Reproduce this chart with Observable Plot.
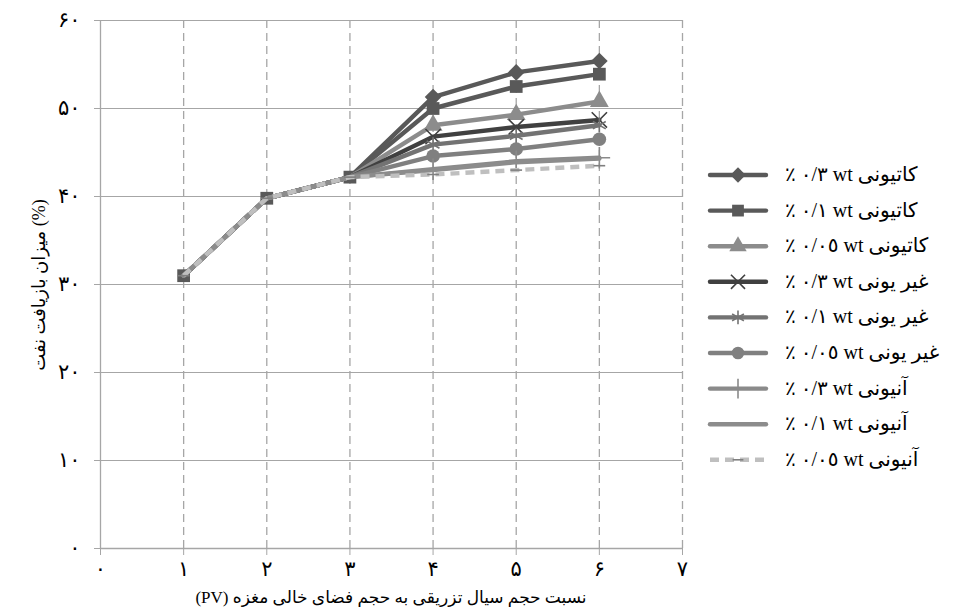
<!DOCTYPE html>
<html>
<head>
<meta charset="utf-8">
<script src="https://cdn.jsdelivr.net/npm/d3@7"></script>
<script src="https://cdn.jsdelivr.net/npm/@observablehq/plot@0.6"></script>
<style>
  html, body { margin: 0; padding: 0; background: #fff; }
  #chart { width: 974px; height: 611px; }
</style>
</head>
<body>
<div id="chart"></div>
<script>
// ---- Data ----
const pv = [1, 2, 3, 4, 5, 6];
const cationic03  = [31.0, 39.8, 42.2, 51.3, 54.1, 55.4];
const cationic01  = [31.0, 39.8, 42.2, 50.0, 52.5, 53.9];
const cationic005 = [31.0, 39.8, 42.2, 48.1, 49.3, 50.8];
const nonionic03  = [31.0, 39.8, 42.2, 46.8, 47.9, 48.7];
const nonionic01  = [31.0, 39.8, 42.2, 45.9, 46.9, 48.1];
const nonionic005 = [31.0, 39.8, 42.2, 44.6, 45.4, 46.5];
const anionic03   = [31.0, 39.8, 42.2, 43.1, 44.0, 44.4];
const anionic01   = [31.0, 39.8, 42.2, 43.0, 43.9, 44.3];
const anionic005  = [31.0, 39.8, 42.2, 42.5, 43.0, 43.5];

const seriesLabels = [
  "٪ ٠/٣ wt کاتیونی",
  "٪ ٠/١ wt کاتیونی",
  "٪ ٠/٠٥ wt کاتیونی",
  "٪ ٠/٣ wt غیر یونی",
  "٪ ٠/١ wt غیر یونی",
  "٪ ٠/٠٥ wt غیر یونی",
  "٪ ٠/٣ wt آنیونی",
  "٪ ٠/١ wt آنیونی",
  "٪ ٠/٠٥ wt آنیونی"
];
const seriesValues = [cationic03, cationic01, cationic005, nonionic03, nonionic01, nonionic005, anionic03, anionic01, anionic005];

const xTicks = [0, 1, 2, 3, 4, 5, 6, 7];
const xTickLabels = ["۰", "۱", "۲", "۳", "۴", "۵", "۶", "۷"];
const yTicks = [0, 10, 20, 30, 40, 50, 60];
const yTickLabels = ["۰", "۱۰", "۲۰", "۳۰", "۴۰", "۵۰", "۶۰"];
const xTitle = "(PV) نسبت حجم سیال تزریقی به حجم فضای خالی مغزه";
const yTitle = "میزان بازیافت نفت (%)";

// ---- Styles ----
const dashSymbol = { draw(ctx, size) { const w = Math.sqrt(size) * 0.55; ctx.moveTo(-w, 0); ctx.lineTo(w, 0); } };
const styles = [
  { color: "#595959", symbol: "diamond2", filled: true, r: 7.5 },
  { color: "#595959", symbol: "square", filled: true, r: 7.2, shared: true },
  { color: "#8c8c8c", symbol: "triangle", filled: true, r: 7 },
  { color: "#404040", symbol: "times", filled: false, r: 7 },
  { color: "#737373", symbol: "asterisk", filled: false, r: 7 },
  { color: "#808080", symbol: "circle", filled: true, r: 6.8 },
  { color: "#8a8a8a", symbol: "plus", filled: false, r: 7 },
  { color: "#8c8c8c", symbol: null, filled: false, r: 0 },
  { color: "#bfbfbf", symbol: dashSymbol, filled: false, r: 6, dash: "9,6", markColor: "#7f7f7f", shared: true }
];
const sharedUntil = 3; // points up to PV=3 are common to all series

const data = seriesValues.flatMap((vals, s) => vals.map((v, i) => ({ s, x: pv[i], y: v })));

const fontFam = "'Liberation Serif', 'DejaVu Sans', serif";
const gridColor = "#a6a6a6";

const marks = [
  Plot.ruleY(yTicks.filter(d => d > 0), { x1: 0, x2: 7, stroke: gridColor, strokeWidth: 1.2 }),
  Plot.ruleX(xTicks.filter(d => d > 0), { y1: 0, y2: 60, stroke: gridColor, strokeWidth: 1.3, strokeDasharray: "8,5" }),
  Plot.ruleX([0], { y1: 0, y2: 60, stroke: gridColor, strokeWidth: 1.3 }),
  Plot.ruleY([0], { x1: 0, x2: 7, stroke: gridColor, strokeWidth: 1.3 }),
  Plot.axisX({ ticks: xTicks, tickFormat: d => xTickLabels[xTicks.indexOf(d)], tickSize: 7, tickPadding: 6, stroke: gridColor, fontSize: 21, label: null }),
  Plot.axisY({ ticks: yTicks, tickFormat: d => yTickLabels[yTicks.indexOf(d)], tickSize: 6, tickPadding: 14, stroke: gridColor, fontSize: 21, label: null })
];

seriesValues.forEach((vals, s) => {
  const st = styles[s];
  const d = data.filter(p => p.s === s);
  marks.push(Plot.line(d, { x: "x", y: "y", stroke: st.color, strokeWidth: 4.4, strokeDasharray: st.dash, strokeLinecap: st.dash ? "butt" : "round", strokeLinejoin: "round" }));
  if (st.symbol) {
    const dd = st.shared ? d : d.filter(p => p.x > sharedUntil);
    if (st.filled) {
      marks.push(Plot.dot(dd, { x: "x", y: "y", symbol: st.symbol, r: st.r, fill: st.color, stroke: "none" }));
    } else {
      marks.push(Plot.dot(dd, { x: "x", y: "y", symbol: st.symbol, r: st.r, fill: "none", stroke: st.markColor || st.color, strokeWidth: 1.6 }));
    }
  }
});

const chart = Plot.plot({
  width: 974,
  height: 611,
  marginLeft: 100,
  marginRight: 292,
  marginTop: 20,
  marginBottom: 63,
  x: { domain: [0, 7] },
  y: { domain: [0, 60] },
  style: { fontFamily: fontFam, fontSize: "17px", color: "#000", background: "#fff", overflow: "visible" },
  marks
});

document.getElementById("chart").appendChild(chart);

// ---- Titles and legend (layout decoration) ----
const svg = d3.select(chart);
svg.append("text")
  .attr("x", 391).attr("y", 603)
  .attr("text-anchor", "middle")
  .attr("font-family", fontFam).attr("font-size", 17).attr("fill", "#000")
  .text(xTitle);
svg.append("text")
  .attr("transform", "translate(45,285) rotate(-90)")
  .attr("text-anchor", "middle")
  .attr("font-family", fontFam).attr("font-size", 18).attr("fill", "#000")
  .text(yTitle);

const lg = svg.append("g").attr("text-anchor", "start");
const ly0 = 175, lstep = 35.6, lx1 = 710, lx2 = 766;
const symMap = { diamond2: d3.symbolDiamond2, square: d3.symbolSquare, triangle: d3.symbolTriangle, times: d3.symbolTimes, asterisk: d3.symbolAsterisk, circle: d3.symbolCircle, plus: d3.symbolPlus };
seriesLabels.forEach((lab, i) => {
  const st = styles[i];
  const y = ly0 + i * lstep;
  lg.append("line").attr("x1", lx1).attr("x2", lx2).attr("y1", y).attr("y2", y)
    .attr("stroke", st.color).attr("stroke-width", 4.4)
    .attr("stroke-dasharray", st.dash || null)
    .attr("stroke-linecap", st.dash ? "butt" : "round");
  if (st.symbol) {
    const type = typeof st.symbol === "string" ? symMap[st.symbol] : st.symbol;
    const p = d3.symbol(type, Math.PI * st.r * st.r * 0.85)();
    lg.append("path").attr("d", p).attr("transform", `translate(${(lx1 + lx2) / 2},${y})`)
      .attr("fill", st.filled ? st.color : "none")
      .attr("stroke", st.filled ? "none" : (st.markColor || st.color))
      .attr("stroke-width", 1.6);
  }
  lg.append("text").attr("x", 785).attr("y", y + 6)
    .attr("text-anchor", "start")
    .attr("font-family", fontFam).attr("font-size", 20).attr("fill", "#000")
    .attr("direction", "ltr")
    .text(lab);
});
</script>
</body>
</html>
